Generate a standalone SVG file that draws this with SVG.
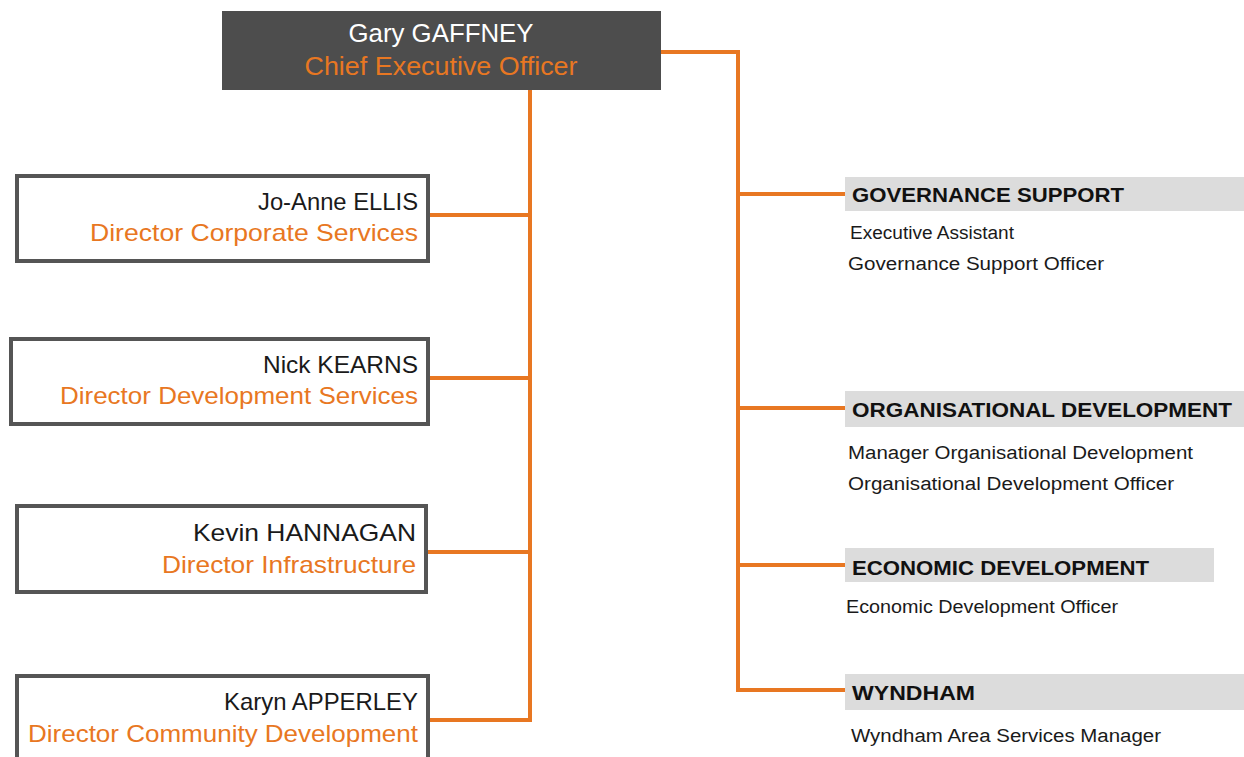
<svg xmlns="http://www.w3.org/2000/svg" width="1244" height="757" viewBox="0 0 1244 757">
<style>
.bg{fill:#ffffff}
.dir{fill:#ffffff;stroke:#555555;stroke-width:4}
.ceo{fill:#4d4d4d}
.bar{fill:#dcdcdc}
.conn{fill:none;stroke:#e87722;stroke-width:4}
text{font-family:"Liberation Sans",Arial,sans-serif}
.name{font-size:24px;fill:#1a1a1a;text-anchor:end}
.role{font-size:24px;fill:#e87722;text-anchor:end}
.ceoname{font-size:25px;fill:#ffffff;text-anchor:middle}
.ceorole{font-size:25px;fill:#e87722;text-anchor:middle}
.head{font-size:21px;font-weight:bold;fill:#111111}
.sub{font-size:18px;fill:#1a1a1a}
</style>
<rect class="bg" x="0" y="0" width="1244" height="757"/>
<g id="connectors">
<polyline class="conn" points="530,90 530,720 428,720"/>
<line class="conn" x1="428" y1="215" x2="530" y2="215"/>
<line class="conn" x1="428" y1="378" x2="530" y2="378"/>
<line class="conn" x1="428" y1="552" x2="530" y2="552"/>
<polyline class="conn" points="661,52 738,52 738,690 845,690"/>
<line class="conn" x1="738" y1="194" x2="845" y2="194"/>
<line class="conn" x1="738" y1="408" x2="845" y2="408"/>
<line class="conn" x1="738" y1="565" x2="845" y2="565"/>
</g>
<g id="ceo">
<rect class="ceo" x="222" y="11" width="439" height="79"/>
<text class="ceoname" x="441" y="42" textLength="185" lengthAdjust="spacingAndGlyphs">Gary GAFFNEY</text>
<text class="ceorole" x="441" y="75" textLength="273" lengthAdjust="spacingAndGlyphs">Chief Executive Officer</text>
</g>
<g id="ellis">
<rect class="dir" x="17" y="176" width="411" height="85"/>
<text class="name" x="418" y="210" textLength="160" lengthAdjust="spacingAndGlyphs">Jo-Anne ELLIS</text>
<text class="role" x="418" y="241" textLength="328" lengthAdjust="spacingAndGlyphs">Director Corporate Services</text>
</g>
<g id="kearns">
<rect class="dir" x="11" y="339" width="417" height="85"/>
<text class="name" x="418" y="373" textLength="155" lengthAdjust="spacingAndGlyphs">Nick KEARNS</text>
<text class="role" x="418" y="404" textLength="358" lengthAdjust="spacingAndGlyphs">Director Development Services</text>
</g>
<g id="hannagan">
<rect class="dir" x="17" y="506" width="409" height="86"/>
<text class="name" x="416" y="541" textLength="223" lengthAdjust="spacingAndGlyphs">Kevin HANNAGAN</text>
<text class="role" x="416" y="573" textLength="254" lengthAdjust="spacingAndGlyphs">Director Infrastructure</text>
</g>
<g id="apperley">
<rect class="dir" x="17" y="676" width="411" height="90"/>
<text class="name" x="418" y="710" textLength="194" lengthAdjust="spacingAndGlyphs">Karyn APPERLEY</text>
<text class="role" x="418" y="742" textLength="390" lengthAdjust="spacingAndGlyphs">Director Community Development</text>
</g>
<g id="governance">
<rect class="bar" x="845" y="177" width="399" height="34"/>
<text class="head" x="852" y="202" textLength="272" lengthAdjust="spacingAndGlyphs">GOVERNANCE SUPPORT</text>
<text class="sub" x="850" y="239" textLength="164" lengthAdjust="spacingAndGlyphs">Executive Assistant</text>
<text class="sub" x="848" y="270" textLength="256" lengthAdjust="spacingAndGlyphs">Governance Support Officer</text>
</g>
<g id="orgdev">
<rect class="bar" x="845" y="391" width="399" height="36"/>
<text class="head" x="852" y="417" textLength="380" lengthAdjust="spacingAndGlyphs">ORGANISATIONAL DEVELOPMENT</text>
<text class="sub" x="848" y="459" textLength="345" lengthAdjust="spacingAndGlyphs">Manager Organisational Development</text>
<text class="sub" x="848" y="490" textLength="326" lengthAdjust="spacingAndGlyphs">Organisational Development Officer</text>
</g>
<g id="econdev">
<rect class="bar" x="845" y="548" width="369" height="34"/>
<text class="head" x="852" y="575" textLength="297" lengthAdjust="spacingAndGlyphs">ECONOMIC DEVELOPMENT</text>
<text class="sub" x="846" y="613" textLength="272" lengthAdjust="spacingAndGlyphs">Economic Development Officer</text>
</g>
<g id="wyndham">
<rect class="bar" x="845" y="674" width="399" height="36"/>
<text class="head" x="852" y="700" textLength="123" lengthAdjust="spacingAndGlyphs">WYNDHAM</text>
<text class="sub" x="851" y="742" textLength="310" lengthAdjust="spacingAndGlyphs">Wyndham Area Services Manager</text>
</g>
</svg>
